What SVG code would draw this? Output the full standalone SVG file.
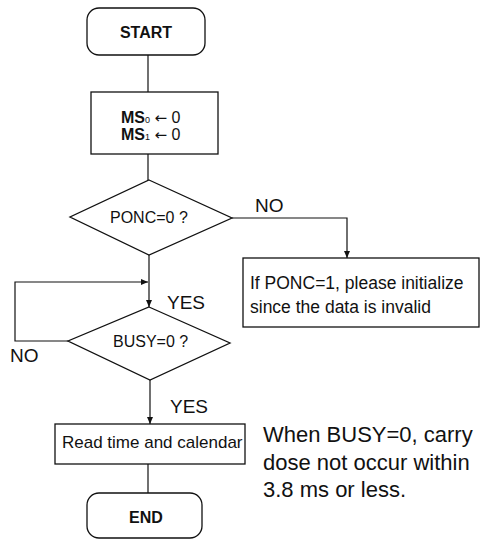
<svg xmlns="http://www.w3.org/2000/svg" width="481" height="542" viewBox="0 0 481 542">
<defs>
<marker id="ah" markerWidth="8" markerHeight="8" refX="7" refY="4" orient="auto" markerUnits="userSpaceOnUse">
<path d="M0,1 L7,4 L0,7 Z" fill="#111"/>
</marker>
<style>
.s{fill:#fff;stroke:#111;stroke-width:1.3}
.c{fill:none;stroke:#111;stroke-width:1.2}
text{font-family:"Liberation Sans",Arial,Helvetica,sans-serif;fill:#111}
.b{font-weight:bold}
.ar{font-family:"DejaVu Sans",sans-serif}
</style>
</defs>
<rect width="481" height="542" fill="#fff"/>
<g id="connectors">
<path class="c" d="M148,55 V92"/>
<path class="c" d="M148,154 V180"/>
<path class="c" d="M232,218 H347 V258" marker-end="url(#ah)"/>
<path class="c" d="M149,255 V307" marker-end="url(#ah)"/>
<path class="c" d="M68,341 H15 V282 H148" marker-end="url(#ah)"/>
<path class="c" d="M150,380 V424" marker-end="url(#ah)"/>
<path class="c" d="M148,464 V493"/>
</g>
<g id="start">
<rect class="s" x="87" y="8" width="118" height="47" rx="12"/>
<text class="b" x="146" y="38" font-size="16" text-anchor="middle">START</text>
</g>
<g id="init">
<rect class="s" x="91" y="92" width="127" height="62"/>
<text x="121" y="123" font-size="16"><tspan class="b">MS</tspan><tspan font-size="9">0</tspan> <tspan class="ar" font-size="15">←</tspan> 0</text>
<text x="121" y="140" font-size="16"><tspan class="b">MS</tspan><tspan font-size="9">1</tspan> <tspan class="ar" font-size="15">←</tspan> 0</text>
</g>
<g id="ponc">
<polygon class="s" points="149,180 232,218 149,255 70,217"/>
<text x="110" y="223" font-size="16">PONC=0 ?</text>
</g>
<text x="255" y="212" font-size="19">NO</text>
<g id="invalid">
<rect class="s" x="243" y="258" width="236" height="69"/>
<text x="250" y="289" font-size="17.5">If PONC=1, please initialize</text>
<text x="250" y="313" font-size="17.5">since the data is invalid</text>
</g>
<text x="167" y="309" font-size="19">YES</text>
<g id="busy">
<polygon class="s" points="149,307 230,343 150,380 68,341"/>
<text x="113" y="347" font-size="16">BUSY=0 ?</text>
</g>
<text x="10" y="362" font-size="19">NO</text>
<text x="170" y="413" font-size="19">YES</text>
<g id="read">
<rect class="s" x="55" y="424" width="190" height="40"/>
<text x="62" y="448" font-size="17">Read time and calendar</text>
</g>
<g id="end">
<rect class="s" x="87" y="493" width="115" height="45" rx="12"/>
<text class="b" x="146" y="523" font-size="16" text-anchor="middle">END</text>
</g>
<g id="note">
<text x="263" y="442" font-size="22">When BUSY=0, carry</text>
<text x="263" y="470" font-size="22">dose not occur within</text>
<text x="263" y="497" font-size="22">3.8 ms or less.</text>
</g>
</svg>
